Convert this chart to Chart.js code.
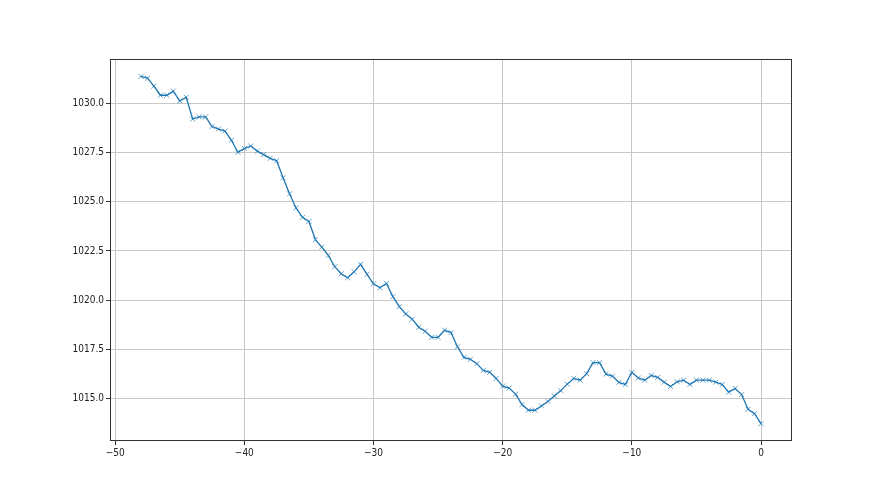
<!DOCTYPE html>
<html>
<head>
<meta charset="utf-8">
<script src="https://cdn.jsdelivr.net/npm/chart.js@4.4.1/dist/chart.umd.min.js"></script>
<style>
    html, body { margin: 0; padding: 0; background: #fff; }
    #wrap { width: 880px; height: 495px; }
</style>
</head>
<body>
<div id="wrap"><canvas id="pressureChart" width="880" height="495"></canvas></div>
<script>
    // hours relative to now, every half hour
    var hours = [
        -48, -47.5, -47, -46.5, -46, -45.5, -45, -44.5, -44, -43.5, -43, -42.5, -42, -41.5, -41, -40.5,
        -40, -39.5, -39, -38.5, -38, -37.5, -37, -36.5, -36, -35.5, -35, -34.5, -34, -33.5, -33, -32.5,
        -32, -31.5, -31, -30.5, -30, -29.5, -29, -28.5, -28, -27.5, -27, -26.5, -26, -25.5, -25, -24.5,
        -24, -23.5, -23, -22.5, -22, -21.5, -21, -20.5, -20, -19.5, -19, -18.5, -18, -17.5, -17, -16.5,
        -16, -15.5, -15, -14.5, -14, -13.5, -13, -12.5, -12, -11.5, -11, -10.5, -10, -9.5, -9, -8.5,
        -8, -7.5, -7, -6.5, -6, -5.5, -5, -4.5, -4, -3.5, -3, -2.5, -2, -1.5, -1, -0.5, 0
    ];

    var pressure = [
        1031.38, 1031.29, 1030.88, 1030.42, 1030.42, 1030.63, 1030.13, 1030.32, 1029.21, 1029.32, 1029.32, 1028.83, 1028.70, 1028.60, 1028.13, 1027.52,
        1027.71, 1027.84, 1027.58, 1027.40, 1027.21, 1027.09, 1026.22, 1025.41, 1024.69, 1024.21, 1024.00, 1023.08, 1022.70, 1022.28, 1021.70, 1021.34,
        1021.14, 1021.44, 1021.82, 1021.31, 1020.83, 1020.63, 1020.85, 1020.18, 1019.67, 1019.30, 1019.03, 1018.62, 1018.42, 1018.11, 1018.11, 1018.47,
        1018.35, 1017.63, 1017.09, 1016.99, 1016.77, 1016.43, 1016.33, 1016.02, 1015.63, 1015.53, 1015.22, 1014.69, 1014.40, 1014.40, 1014.62, 1014.85,
        1015.13, 1015.40, 1015.73, 1016.02, 1015.93, 1016.26, 1016.82, 1016.82, 1016.24, 1016.14, 1015.82, 1015.71, 1016.33, 1016.04, 1015.93, 1016.17,
        1016.07, 1015.83, 1015.61, 1015.85, 1015.93, 1015.71, 1015.93, 1015.93, 1015.93, 1015.83, 1015.71, 1015.32, 1015.51, 1015.20, 1014.45, 1014.23, 1013.72
    ];

    var xTicks = [-50, -40, -30, -20, -10, 0];
    var yTicks = [1015.0, 1017.5, 1020.0, 1022.5, 1025.0, 1027.5, 1030.0];

    // matplotlib style 5% margins
    function padRange(arr) {
        var lo = Math.min.apply(null, arr), hi = Math.max.apply(null, arr);
        var m = (hi - lo) * 0.05;
        return [lo - m, hi + m];
    }
    var xr = padRange(hours);
    var yr = padRange(pressure);

    var points = hours.map(function(h, i) { return { x: h, y: pressure[i] }; });

    var frame = {
        id: 'frame',
        afterDraw: function(chart) {
            var a = chart.chartArea, ctx = chart.ctx;
            ctx.save();
            ctx.strokeStyle = '#333';
            ctx.lineWidth = 1;
            ctx.strokeRect(a.left + 0.5, a.top + 0.5, a.right - a.left - 1, a.bottom - a.top - 1);
            ctx.restore();
        }
    };

    var tickFont = { family: '"Liberation Sans Narrow", "DejaVu Sans Condensed", sans-serif', size: 10 };

    var ctx = document.getElementById('pressureChart').getContext('2d');
    var chart = new Chart(ctx, {
        type: 'line',
        data: {
            datasets: [{
                data: points,
                borderColor: '#1f77b4',
                backgroundColor: '#1f77b4',
                borderWidth: 1.3,
                pointStyle: 'crossRot',
                pointRadius: 3.5,
                pointBorderWidth: 1,
                pointBorderColor: 'rgba(31,119,180,0.7)',
                tension: 0
            }]
        },
        options: {
            responsive: false,
            animation: false,
            layout: { padding: { left: 0, right: 88, top: 59, bottom: 23 } },
            plugins: {
                legend: { display: false },
                tooltip: { enabled: false }
            },
            scales: {
                x: {
                    type: 'linear',
                    min: xr[0],
                    max: xr[1],
                    afterBuildTicks: function(s) { s.ticks = xTicks.map(function(v) { return { value: v }; }); },
                    afterFit: function(s) { s.height = 31; },
                    grid: { color: '#c8c8c8', lineWidth: 1, tickColor: '#333', tickLength: 4, drawTicks: true },
                    border: { display: false },
                    ticks: {
                        color: '#222',
                        font: tickFont,
                        padding: 2,
                        maxRotation: 0,
                        callback: function(v) { return v < 0 ? '\u2212' + Math.abs(v) : String(v); }
                    }
                },
                y: {
                    type: 'linear',
                    min: yr[0],
                    max: yr[1],
                    afterBuildTicks: function(s) { s.ticks = yTicks.map(function(v) { return { value: v }; }); },
                    afterFit: function(s) { s.width = 110; },
                    grid: { color: '#c8c8c8', lineWidth: 1, tickColor: '#333', tickLength: 4, drawTicks: true },
                    border: { display: false },
                    ticks: {
                        color: '#222',
                        font: tickFont,
                        padding: 2,
                        callback: function(v) { return v.toFixed(1); }
                    }
                }
            }
        },
        plugins: [frame]
    });
</script>
</body>
</html>
